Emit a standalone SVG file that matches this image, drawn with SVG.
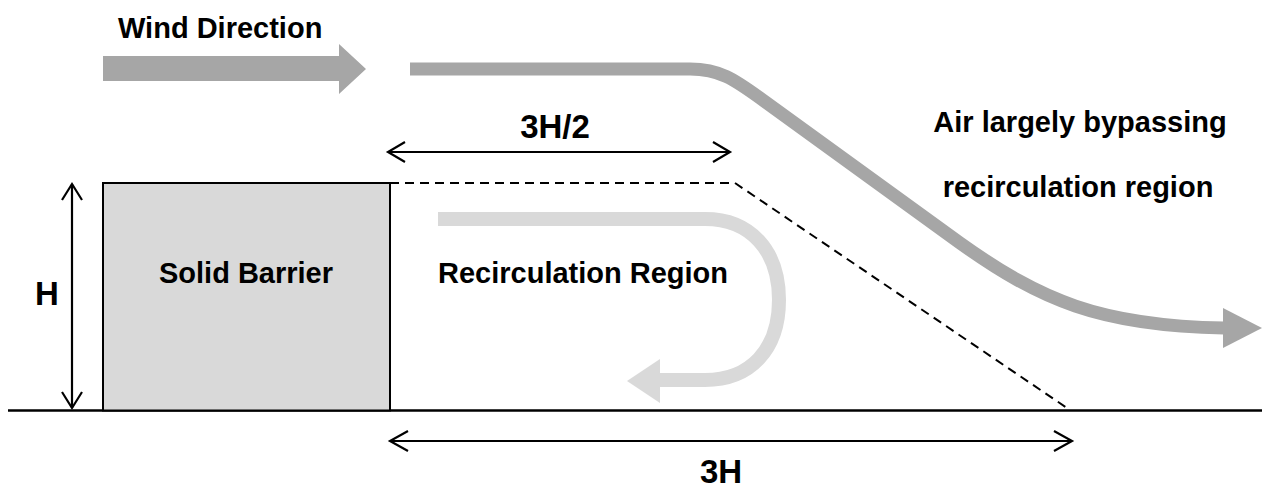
<svg xmlns="http://www.w3.org/2000/svg" width="1262" height="488" viewBox="0 0 1262 488">
<style>
.t{font-family:"Liberation Sans",Arial,sans-serif;font-weight:bold;font-size:29px;fill:#000}
.big{font-size:33px}
.dim{fill:none;stroke:#000;stroke-width:2.2}
.chev{fill:none;stroke:#000;stroke-width:2.2;stroke-linejoin:miter}
</style>
<rect width="1262" height="488" fill="#fff"/>
<g id="ground"><line x1="8" y1="410.5" x2="1262" y2="410.5" stroke="#000" stroke-width="2.6"/></g>
<g id="barrier">
<rect x="103" y="183" width="287" height="227.5" fill="#d9d9d9" stroke="#000" stroke-width="2"/>
<text class="t" x="246" y="283" text-anchor="middle">Solid Barrier</text>
</g>
<g id="wind">
<path d="M103,56 H339 V44 L366,69 L339,94 V81 H103 Z" fill="#a6a6a6"/>
<text class="t" x="118" y="38">Wind Direction</text>
</g>
<g id="bypass">
<path d="M410,69 H690 C720,69 735,80 760,98 L960,243 C1040,300 1100,326 1224,328" fill="none" stroke="#a6a6a6" stroke-width="13"/>
<path d="M1223,308 L1262,328 L1223,348 Z" fill="#a6a6a6"/>
<text class="t" x="1080" y="132" text-anchor="middle">Air largely bypassing</text>
<text class="t" x="1078" y="197" text-anchor="middle">recirculation region</text>
</g>
<g id="recirculation">
<path d="M438,219 H705 C750,219 779,250 779,300 C779,350 750,380 705,380 H659" fill="none" stroke="#d9d9d9" stroke-width="14"/>
<path d="M660,359 L627,381 L660,403 Z" fill="#d9d9d9"/>
<text class="t" x="438" y="283">Recirculation Region</text>
</g>
<g id="connectors">
<path d="M390,183 H735 L1070,410" fill="none" stroke="#000" stroke-width="2" stroke-dasharray="9,6"/>
<line class="dim" x1="72" y1="184" x2="72" y2="408"/>
<path class="chev" d="M62,200 L72,184 L82,200 M62,392 L72,408 L82,392"/>
<line class="dim" x1="388" y1="152" x2="730" y2="152"/>
<path class="chev" d="M405,142 L388,152 L405,162 M713,142 L730,152 L713,162"/>
<line class="dim" x1="390" y1="441" x2="1072" y2="441"/>
<path class="chev" d="M408,431 L390,441 L408,451 M1054,431 L1072,441 L1054,451"/>
</g>
<g id="labels">
<text class="t big" x="555" y="138" text-anchor="middle">3H/2</text>
<text class="t big" x="47" y="305" text-anchor="middle">H</text>
<text class="t big" x="721" y="483" text-anchor="middle">3H</text>
</g>
</svg>
